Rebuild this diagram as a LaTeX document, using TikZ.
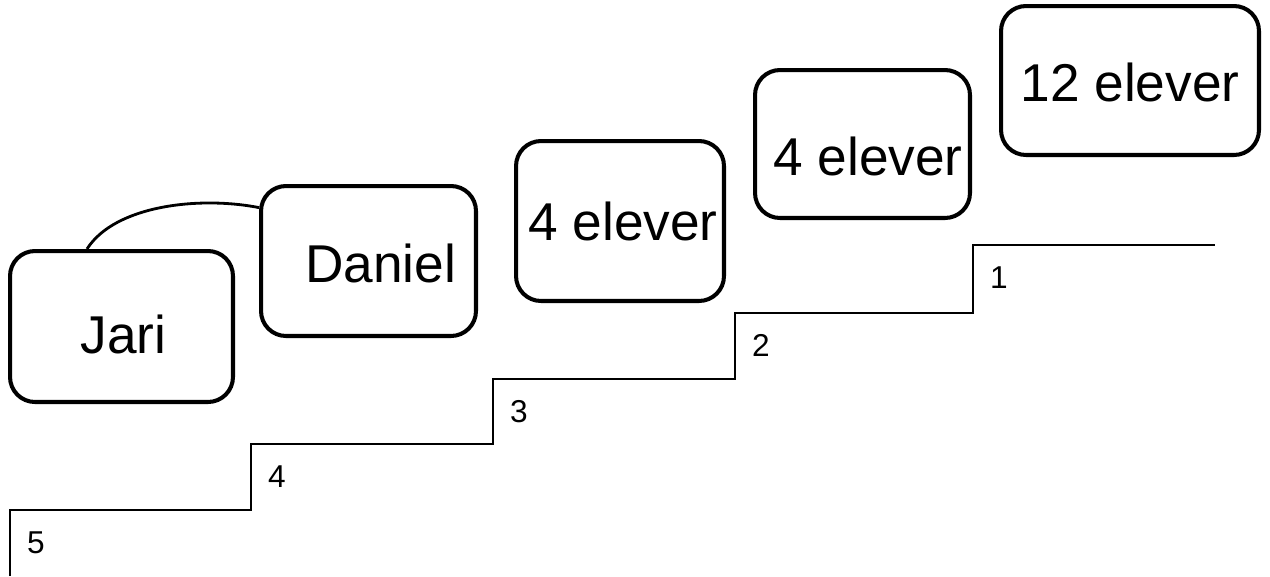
\documentclass[tikz,border=0pt]{standalone}
\usepackage{fontspec}
\setmainfont{Liberation Sans}
\begin{document}
\begin{tikzpicture}[x=0.02cm,y=-0.02cm,
  card/.style={draw=black,line width=2.3pt,rounded corners=0.5cm,inner sep=0pt},
  bigtext/.style={font=\fontsize{30.3}{36}\selectfont,inner sep=0pt,anchor=base},
  steptext/.style={font=\fontsize{18}{21}\selectfont,inner sep=0pt,anchor=base},
  stairline/.style={draw=black,line width=0.7pt}]
\useasboundingbox (0,0) rectangle (1270,576);
% boxes
\node[card,minimum width=4.46cm,minimum height=3.02cm] (jari) at (121.5,326.5) {};
\node[card,minimum width=4.30cm,minimum height=3.00cm] (daniel) at (368.5,261) {};
\node[card,minimum width=4.16cm,minimum height=3.20cm] (e4a) at (620,221) {};
\node[card,minimum width=4.30cm,minimum height=2.96cm] (e4b) at (862.5,144) {};
\node[card,minimum width=5.16cm,minimum height=2.98cm] (e12) at (1130,80.5) {};
% box texts
\node[bigtext] (tjari) at (123.5,353) {Jari};
\node[bigtext] (tdaniel) at (380.5,282) {Daniel};
\node[bigtext] (te4a) at (623,240) {4 elever};
\node[bigtext] (te4b) at (868,175) {4 elever};
\node[bigtext] (te12) at (1130,101) {12 elever};
% connector
\draw[line width=1.6pt] (jari.114) .. controls (115,205) and (200,196) .. (daniel.154);
% stairs
\coordinate (s0) at (10,576);
\coordinate (s5) at (10,510);
\coordinate (s4) at (251,444);
\coordinate (s3) at (493,379);
\coordinate (s2) at (735,313);
\coordinate (s1) at (973,245);
\coordinate (send) at (1215,245);
\draw[stairline] (s0) -- (s5) -| (s4) -| (s3) -| (s2) -| (s1) -- (send);
\node[steptext] (n5) at (36,553) {5};
\node[steptext] (n4) at (277,487) {4};
\node[steptext] (n3) at (519,422) {3};
\node[steptext] (n2) at (761,356) {2};
\node[steptext] (n1) at (999,288) {1};
\end{tikzpicture}
\end{document}
